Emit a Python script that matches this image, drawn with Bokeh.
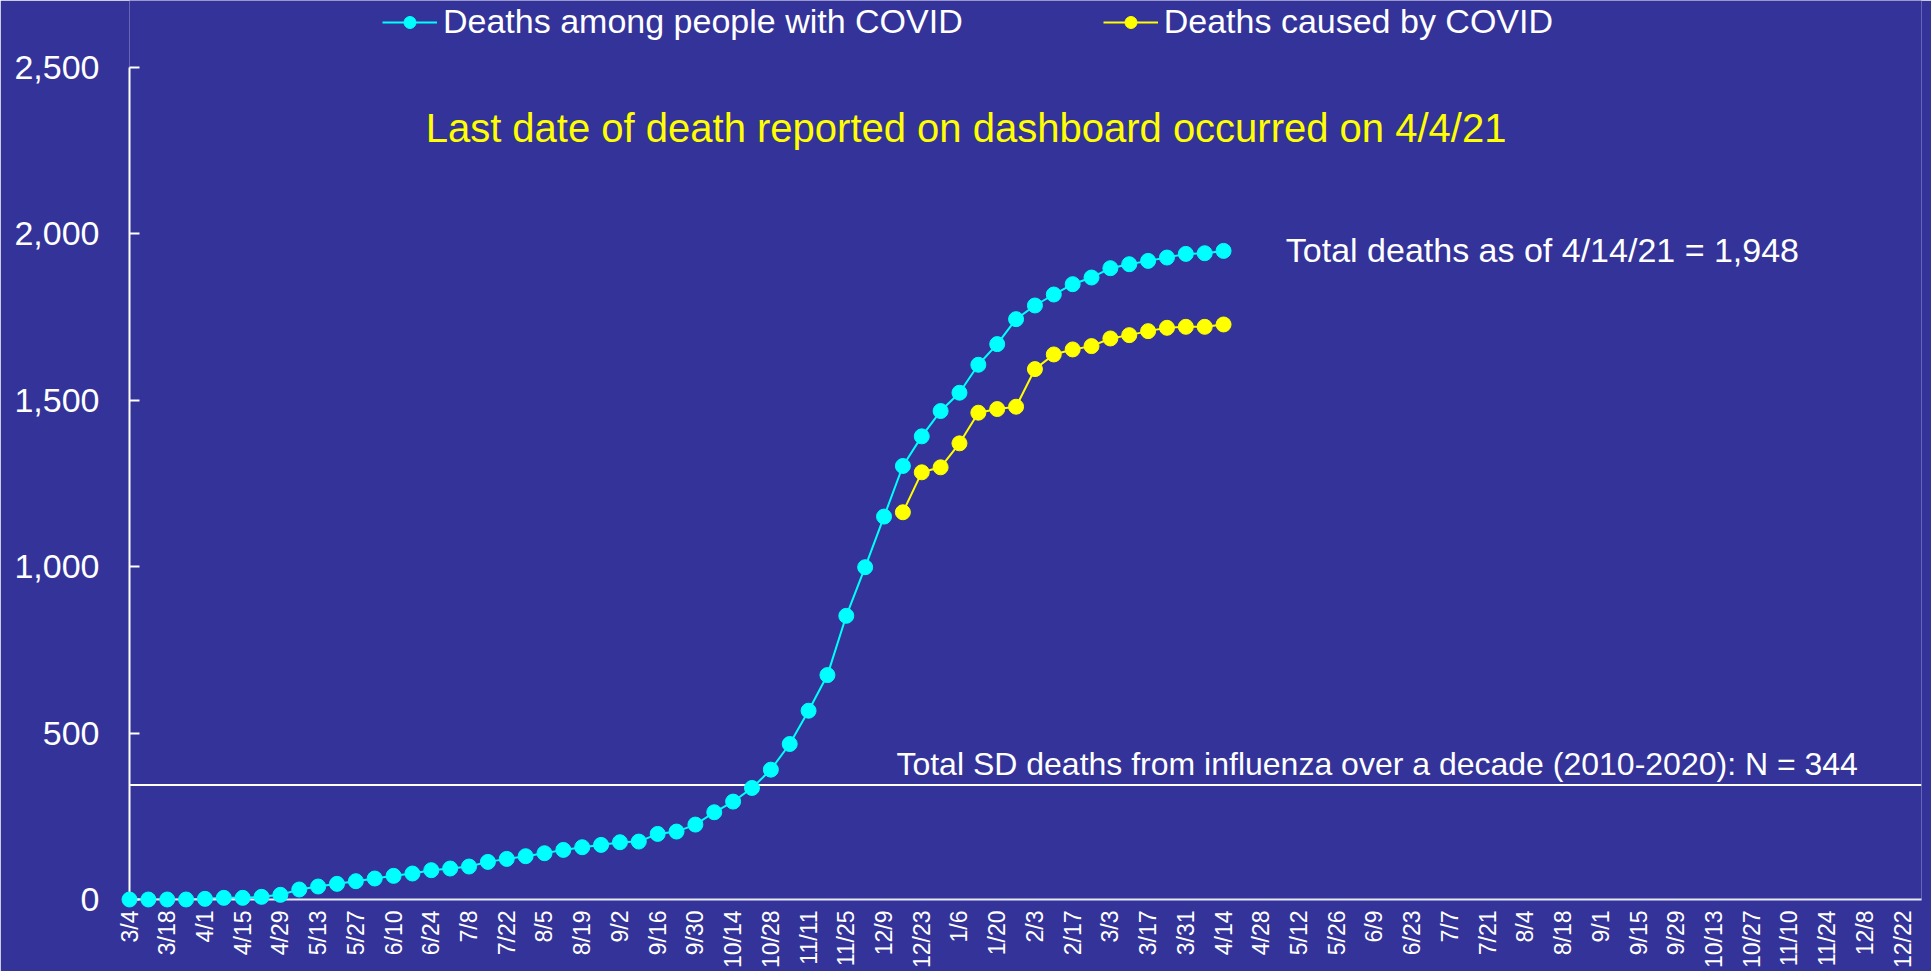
import math
from bokeh.plotting import figure
from bokeh.models import (Range1d, FixedTicker, NumeralTickFormatter, Legend,
                          LegendItem, Label, Span)
from bokeh.embed import file_html
from bokeh.resources import INLINE

# ---------------- data ----------------
tick_labels = ["3/4", "3/18", "4/1", "4/15", "4/29", "5/13", "5/27", "6/10", "6/24",
               "7/8", "7/22", "8/5", "8/19", "9/2", "9/16", "9/30", "10/14", "10/28",
               "11/11", "11/25", "12/9", "12/23", "1/6", "1/20", "2/3", "2/17", "3/3",
               "3/17", "3/31", "4/14", "4/28", "5/12", "5/26", "6/9", "6/23", "7/7",
               "7/21", "8/4", "8/18", "9/1", "9/15", "9/29", "10/13", "10/27", "11/10",
               "11/24", "12/8", "12/22"]
n_weeks = 95  # weekly categories 3/4/2020 .. 12/29/2021

# weekly cumulative deaths, starting week of 3/4/2020
with_covid = [0, 0, 0, 0, 2, 5, 5, 8, 14, 30,
              39, 47, 55, 63, 71, 78, 88, 93, 99, 113,
              122, 130, 139, 149, 157, 164, 172, 174, 197, 204,
              225, 262, 294, 335, 390, 467, 567, 674, 852, 998,
              1150, 1302, 1391, 1467, 1522, 1606, 1668, 1743, 1784, 1817,
              1848, 1868, 1896, 1908, 1918, 1928, 1939, 1941, 1948]
# starts at week index 41 (12/16/2020)
caused_first_week = 41
caused_by_covid = [1163, 1283, 1298, 1370, 1462, 1473, 1480, 1593, 1637, 1652,
                   1662, 1685, 1695, 1707, 1717, 1720, 1720, 1727]

y_ticks = [0, 500, 1000, 1500, 2000, 2500]
influenza_total = 344

series_names = ["Deaths among people with COVID", "Deaths caused by COVID"]
title_text = "Last date of death reported on dashboard occurred on 4/4/21"
total_text = "Total deaths as of 4/14/21 = 1,948"
flu_text = "Total SD deaths from influenza over a decade (2010-2020):  N = 344"

# ---------------- style ----------------
BG = "#333399"
CYAN = "#00FFFF"
YELLOW = "#FFFF00"
FONT = "Liberation Sans"

# the frame reaches the top of the canvas (room for the legend); the y axis
# itself is bounded to 0..2500
p = figure(width=1931, height=971, output_backend="svg", toolbar_location=None,
           x_range=Range1d(0, n_weeks), y_range=Range1d(y_ticks[0], 2700),
           background_fill_color=BG, border_fill_color=BG, outline_line_color=None,
           min_border_left=129, min_border_right=10, min_border_top=0,
           min_border_bottom=71)

p.xgrid.visible = False
p.ygrid.visible = False

# influenza reference line
p.add_layout(Span(location=influenza_total, dimension="width",
                  line_color="white", line_width=2))

x1 = list(range(len(with_covid)))
x2 = list(range(caused_first_week, caused_first_week + len(caused_by_covid)))

l1 = p.line(x1, with_covid, line_color=CYAN, line_width=2)
s1 = p.scatter(x1, with_covid, size=15, fill_color=CYAN, line_color=CYAN, level="overlay")
l2 = p.line(x2, caused_by_covid, line_color=YELLOW, line_width=2)
s2 = p.scatter(x2, caused_by_covid, size=15, fill_color=YELLOW, line_color=YELLOW, level="overlay")

# axes
ya = p.yaxis[0]
ya.bounds = (y_ticks[0], y_ticks[-1])
ya.ticker = FixedTicker(ticks=y_ticks)
ya.formatter = NumeralTickFormatter(format="0,0")
ya.major_tick_in = 10
ya.major_tick_out = 0
ya.minor_tick_line_color = None
ya.axis_line_color = "white"
ya.axis_line_width = 2
ya.major_tick_line_color = "white"
ya.major_tick_line_width = 2
ya.major_label_text_color = "white"
ya.major_label_text_font = FONT
ya.major_label_text_font_size = "34px"
ya.major_label_standoff = 30

xa = p.xaxis[0]
xa.ticker = FixedTicker(ticks=list(range(0, 2 * len(tick_labels), 2)))
xa.major_label_overrides = {2 * i: lab for i, lab in enumerate(tick_labels)}
xa.major_label_orientation = math.pi / 2
xa.major_tick_in = 0
xa.major_tick_out = 0
xa.minor_tick_line_color = None
xa.axis_line_color = "#E8E8F8"
xa.axis_line_width = 2
xa.major_label_text_color = "white"
xa.major_label_text_font = FONT
xa.major_label_text_font_size = "23px"
xa.major_label_standoff = 11

# legend at the top of the frame
legend = Legend(items=[LegendItem(label=series_names[0], renderers=[l1, s1]),
                       LegendItem(label=series_names[1], renderers=[l2, s2])],
                orientation="horizontal", location=(253, 858),
                background_fill_alpha=0, border_line_alpha=0,
                label_text_color="white", label_text_font=FONT,
                label_text_font_size="34px", glyph_width=55, glyph_height=30,
                label_standoff=6, spacing=140, padding=0, margin=0)
p.add_layout(legend)

p.add_layout(Label(x=15.7, y=2316, text=title_text, text_color=YELLOW,
                   text_font=FONT, text_font_size="40px", text_baseline="middle"))
p.add_layout(Label(x=61.3, y=1952, text=total_text, text_color="white",
                   text_font=FONT, text_font_size="34px", text_baseline="middle"))
p.add_layout(Label(x=92.1, y=354, text=flu_text, text_color="white",
                   text_font=FONT, text_font_size="32px", text_align="right",
                   text_baseline="bottom"))

open("out.html", "w").write(file_html(p, INLINE))
